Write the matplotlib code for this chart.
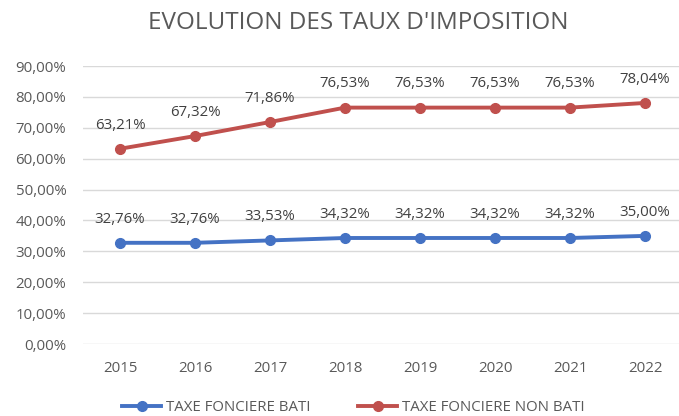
import matplotlib.pyplot as plt
from matplotlib.ticker import FuncFormatter

years = ['2015', '2016', '2017', '2018', '2019', '2020', '2021', '2022']
bati = [32.76, 32.76, 33.53, 34.32, 34.32, 34.32, 34.32, 35.00]
non_bati = [63.21, 67.32, 71.86, 76.53, 76.53, 76.53, 76.53, 78.04]

plt.rcParams['font.family'] = ['Open Sans', 'DejaVu Sans']
gray = '#595959'

fig = plt.figure(figsize=(6.79, 4.16), dpi=100)
ax = fig.add_axes([83 / 679, 72 / 416, 1 - 83 / 679, 278 / 416])

x = list(range(len(years)))
c_blue = '#4472C4'
c_red = '#C0504D'
ax.plot(x, bati, color=c_blue, lw=2.8, marker='o', ms=7, label='TAXE FONCIERE BATI')
ax.plot(x, non_bati, color=c_red, lw=2.8, marker='o', ms=7, label='TAXE FONCIERE NON BATI')

for xs, vals in ((x, bati), (x, non_bati)):
    for xi, v in zip(xs, vals):
        ax.annotate(f'{v:.2f}%'.replace('.', ','), (xi, v), xytext=(0, 17),
                    textcoords='offset points', ha='center', va='center',
                    fontsize=10.8, color='#404040')

ax.set_xlim(-0.493, 7.453)
ax.set_ylim(0, 90)
ax.set_yticks(range(0, 91, 10))
ax.yaxis.set_major_formatter(FuncFormatter(lambda v, p: f'{v:.2f}%'.replace('.', ',')))
ax.set_xticks(x)
ax.set_xticklabels(years)
ax.grid(axis='y', color='#d9d9d9', lw=1)
ax.set_axisbelow(True)
for s in ax.spines.values():
    s.set_visible(False)
ax.tick_params(length=0, colors=gray, labelsize=10.8)
ax.tick_params(axis='x', pad=12)
ax.tick_params(axis='y', pad=12)

fig.text(0.527, 0.945, "EVOLUTION DES TAUX D'IMPOSITION", ha='center', va='center',
         fontsize=17.5, color=gray)

fig.legend(loc='center', bbox_to_anchor=(0.52, 0.02), ncol=2, frameon=False,
           fontsize=10.8, labelcolor=gray, handlelength=2.6, columnspacing=3.2,
           handletextpad=0.3)

fig.savefig('out.png', dpi=100)
